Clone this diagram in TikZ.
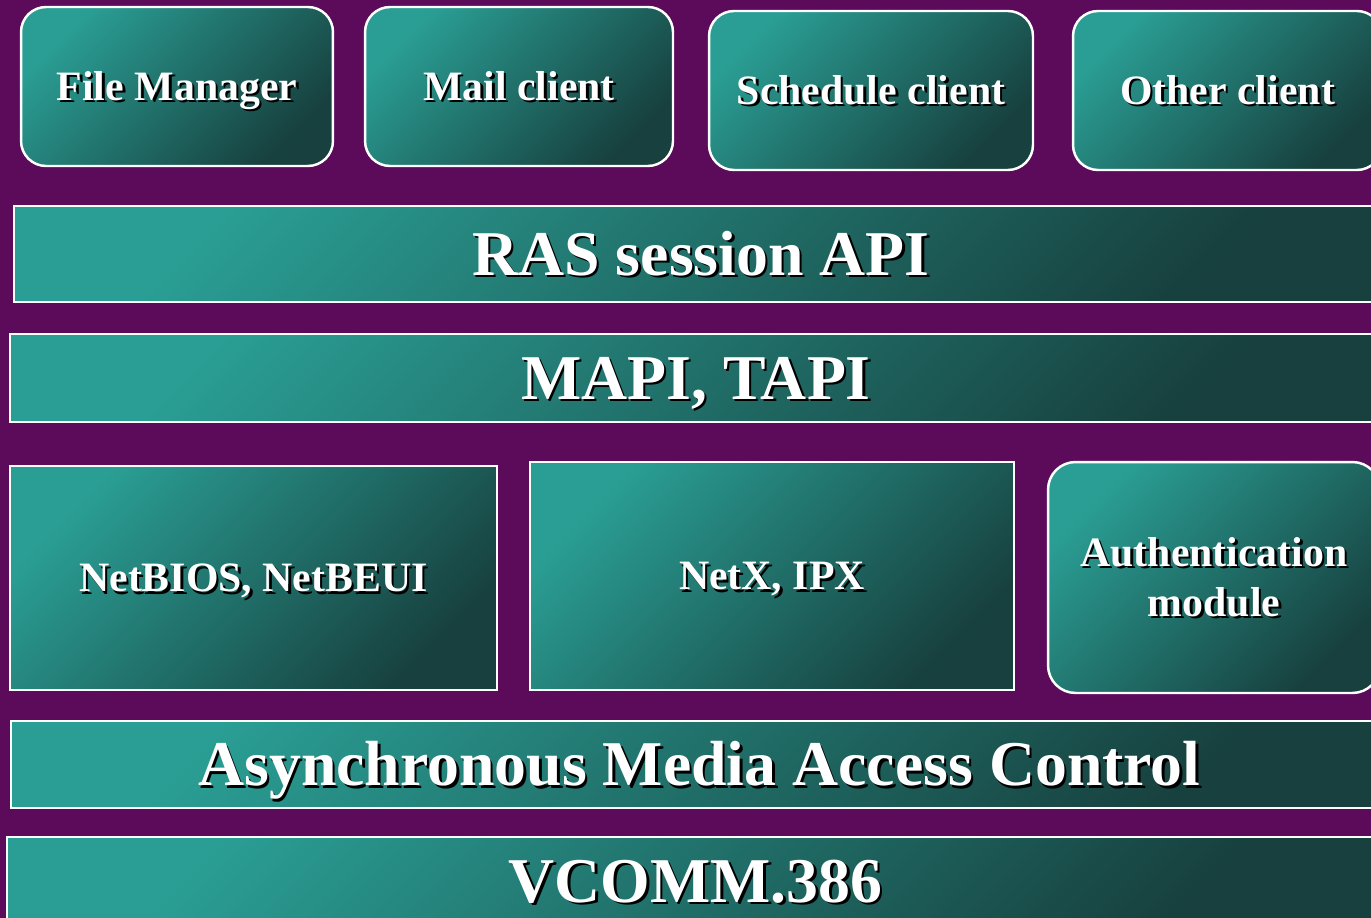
\documentclass[tikz,border=0pt]{standalone}
\usepackage{fontspec}
\setmainfont{Liberation Serif}
\usepackage{tikz}
\usetikzlibrary{positioning}

\definecolor{bgpurple}{HTML}{5C0A5A}
\definecolor{teallight}{HTML}{2A9E94}
\definecolor{tealdark}{HTML}{17403E}

% white text with a dark drop shadow
\newcommand{\shd}[1]{\leavevmode\rlap{\kern1.4pt\raisebox{-1.4pt}{\color{black}#1}}#1}

\tikzset{
	x=0.02cm, y=-0.02cm,
	layer/.style ={draw=white, line width=1.4pt, top color=teallight, bottom color=tealdark,
		shading angle=45, text=white, font=\bfseries\fontsize{23.8}{28.3}\selectfont,
		inner sep=0pt, align=center, text height=15.8pt, text depth=0pt},
	client/.style = {layer, rounded corners=0.5cm, minimum height=3.18cm},
	band/.style = {layer, font=\bfseries\fontsize{36.3}{40}\selectfont, text height=24pt}
}

\begin{document}
\begin{tikzpicture}
	\clip (0,0) rectangle (1371,918);
	\fill[bgpurple] (0,0) rectangle (1371,918);

	% clients
	\node[client, minimum width=6.24cm] (fm) at (177,86.5) {\shd{File Manager}};
	\node[client, minimum width=6.16cm] (mail) at (519,86.5) {\shd{Mail client}};
	\node[client, minimum width=6.48cm] (sched) at (871,90.5) {\shd{Schedule client}};
	\node[client, minimum width=6.18cm] (other) at (1227.5,90.5) {\shd{Other client}};

	% APIs
	\node[band, minimum width=27.48cm, minimum height=1.92cm] (ras) at (701,254) {\shd{RAS session API}};
	\node[band, minimum width=27.44cm, minimum height=1.76cm] (mapi) at (696,378) {\shd{MAPI, TAPI}};

	% protocols
	\node[layer, minimum width=9.74cm, minimum height=4.48cm] (netbios) at (253.5,578) {\shd{NetBIOS, NetBEUI}};
	\node[layer, minimum width=9.68cm, minimum height=4.56cm] (netx) at (772,576) {\shd{NetX, IPX}};
	\node[layer, rounded corners=0.55cm, minimum width=6.64cm, minimum height=4.62cm, text height=44.1pt] (auth) at (1214,577.5)
		{\shd{Authentication}\\\shd{module}};

	% media
	\node[band, minimum width=27.54cm, minimum height=1.74cm] (amac) at (699.5,764.5) {\shd{Asynchronous Media Access Control}};
	\node[band, minimum width=27.54cm, minimum height=1.76cm] (vcomm) at (695.5,881) {\shd{VCOMM.386}};
\end{tikzpicture}
\end{document}
